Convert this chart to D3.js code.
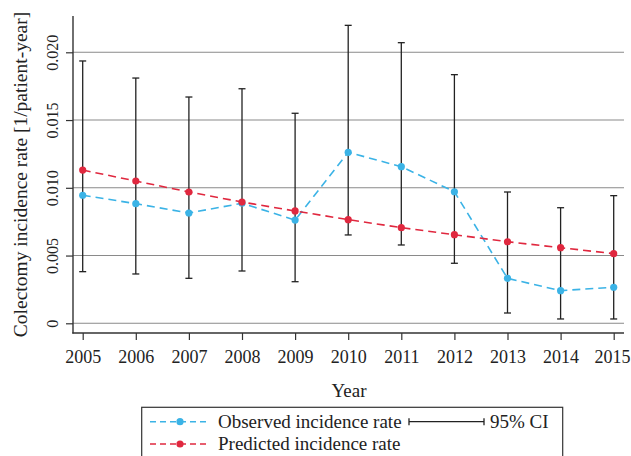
<!DOCTYPE html>
<html>
<head>
<meta charset="utf-8">
<script src="https://cdn.jsdelivr.net/npm/d3@7"></script>
<style>
  body { margin: 0; background: #fff; }
  svg text { font-family: "Liberation Serif", "Times New Roman", serif; }
</style>
</head>
<body>
<div id="chart"></div>
<script>
// data
var years = [2005, 2006, 2007, 2008, 2009, 2010, 2011, 2012, 2013, 2014, 2015];
var observed = [0.00945, 0.00883, 0.00814, 0.00886, 0.00762, 0.01262, 0.01156, 0.00971, 0.00332, 0.00241, 0.00266];
var predicted = [0.01131, 0.01050, 0.00969, 0.00895, 0.00829, 0.00765, 0.00706, 0.00654, 0.00602, 0.00558, 0.00514];
var ciLow = [0.00381, 0.00364, 0.00332, 0.00386, 0.00307, 0.00652, 0.00578, 0.00443, 0.00076, 0.00032, 0.00032];
var ciHigh = [0.01936, 0.01810, 0.01670, 0.01731, 0.01550, 0.02199, 0.02071, 0.01835, 0.00969, 0.00853, 0.00942];
var yTicks = [0, 0.005, 0.010, 0.015, 0.020];
var yTickLabels = ["0", "0.005", "0.010", "0.015", "0.020"];

var blue = "#3bb3e6", red = "#e0283f";
var W = 631, H = 456;
var plotL = 73, plotR = 624, plotT = 16, plotB = 333;

var svg = d3.select("#chart").append("svg")
  .attr("width", W).attr("height", H);

var x = d3.scaleLinear().domain([2005, 2015]).range([82.7, 613.7]);
var y = d3.scaleLinear().domain([0, 0.02]).range([323.3, 52.3]);

// gridlines
svg.append("g").selectAll("line")
  .data(yTicks).enter().append("line")
  .attr("x1", plotL).attr("x2", plotR)
  .attr("y1", function(d){ return y(d); })
  .attr("y2", function(d){ return y(d); })
  .attr("stroke", "#8a8a8a").attr("stroke-width", 1.1);

// y axis
var yAxis = svg.append("g")
  .attr("transform", "translate(" + plotL + ",0)")
  .call(d3.axisLeft(y).tickValues(yTicks).tickSize(7)
    .tickFormat(function(d, i){ return yTickLabels[i]; }));
yAxis.select(".domain").remove();
yAxis.append("line").attr("x1", 0).attr("x2", 0).attr("y1", plotT).attr("y2", plotB + 0.6)
  .attr("stroke", "#333").attr("stroke-width", 1.4);
yAxis.selectAll(".tick line").attr("stroke", "#333").attr("stroke-width", 1.2);
yAxis.selectAll(".tick text")
  .attr("transform", "rotate(-90)")
  .attr("x", 0).attr("y", -15).attr("dy", 0)
  .attr("text-anchor", "middle")
  .attr("fill", "#222")
  .style("font-size", "16px");

// x axis
var xAxis = svg.append("g")
  .attr("transform", "translate(0," + plotB + ")")
  .call(d3.axisBottom(x).tickValues(years).tickSize(7).tickFormat(d3.format("d")));
xAxis.select(".domain").remove();
xAxis.append("line").attr("x1", plotL - 0.7).attr("x2", plotR).attr("y1", 0).attr("y2", 0)
  .attr("stroke", "#333").attr("stroke-width", 1.4);
xAxis.selectAll(".tick line").attr("stroke", "#333").attr("stroke-width", 1.2);
xAxis.selectAll(".tick text")
  .attr("y", 30.3).attr("dy", 0)
  .attr("x", function(d){ return d === 2015 ? -1.8 : 0; })
  .attr("fill", "#222")
  .style("font-size", "18px");

// axis titles
svg.append("text")
  .attr("transform", "translate(27," + ((plotT + plotB) / 2) + ") rotate(-90)")
  .attr("text-anchor", "middle").attr("fill", "#222")
  .style("font-size", "19.5px")
  .text("Colectomy incidence rate [1/patient-year]");
svg.append("text")
  .attr("x", (plotL + plotR) / 2 + 0.5).attr("y", 397)
  .attr("text-anchor", "middle").attr("fill", "#222")
  .style("font-size", "19px")
  .text("Year");

// error bars
var ci = svg.append("g").attr("stroke", "#222").attr("stroke-width", 1.3);
years.forEach(function(yr, i){
  ci.append("line").attr("x1", x(yr)).attr("x2", x(yr))
    .attr("y1", y(ciLow[i])).attr("y2", y(ciHigh[i]));
  ci.append("line").attr("x1", x(yr) - 3.5).attr("x2", x(yr) + 3.5)
    .attr("y1", y(ciLow[i])).attr("y2", y(ciLow[i]));
  ci.append("line").attr("x1", x(yr) - 3.5).attr("x2", x(yr) + 3.5)
    .attr("y1", y(ciHigh[i])).attr("y2", y(ciHigh[i]));
});

// series lines + markers
function drawSeries(vals, color){
  var line = d3.line()
    .x(function(d, i){ return x(years[i]); })
    .y(function(d){ return y(d); });
  svg.append("path").datum(vals)
    .attr("d", line).attr("fill", "none")
    .attr("stroke", color).attr("stroke-width", 1.6)
    .attr("stroke-dasharray", "8,5");
  svg.append("g").selectAll("circle")
    .data(vals).enter().append("circle")
    .attr("cx", function(d, i){ return x(years[i]); })
    .attr("cy", function(d){ return y(d); })
    .attr("r", 3.6).attr("fill", color);
}
drawSeries(observed, blue);
drawSeries(predicted, red);

// legend
var lg = svg.append("g");
lg.append("rect").attr("x", 141.7).attr("y", 407.3).attr("width", 421).attr("height", 60)
  .attr("fill", "#fff").attr("stroke", "#333").attr("stroke-width", 1.2);
var legendItems = [
  { label: "Observed incidence rate", color: blue, y: 421.7 },
  { label: "Predicted incidence rate", color: red, y: 444 }
];
legendItems.forEach(function(it){
  lg.append("line").attr("x1", 150).attr("x2", 210).attr("y1", it.y).attr("y2", it.y)
    .attr("stroke", it.color).attr("stroke-width", 1.6).attr("stroke-dasharray", "6,4");
  lg.append("circle").attr("cx", 180).attr("cy", it.y).attr("r", 3.6).attr("fill", it.color);
  lg.append("text").attr("x", 218).attr("y", it.y + 6.3).attr("fill", "#222")
    .style("font-size", "19px").text(it.label);
});
var ciY = 421.7;
lg.append("line").attr("x1", 409).attr("x2", 484).attr("y1", ciY).attr("y2", ciY)
  .attr("stroke", "#222").attr("stroke-width", 1.3);
[409, 484].forEach(function(cx){
  lg.append("line").attr("x1", cx).attr("x2", cx).attr("y1", ciY - 3.5).attr("y2", ciY + 3.5)
    .attr("stroke", "#222").attr("stroke-width", 1.3);
});
lg.append("text").attr("x", 490).attr("y", ciY + 6.3).attr("fill", "#222")
  .style("font-size", "19px").text("95% CI");
</script>
</body>
</html>
